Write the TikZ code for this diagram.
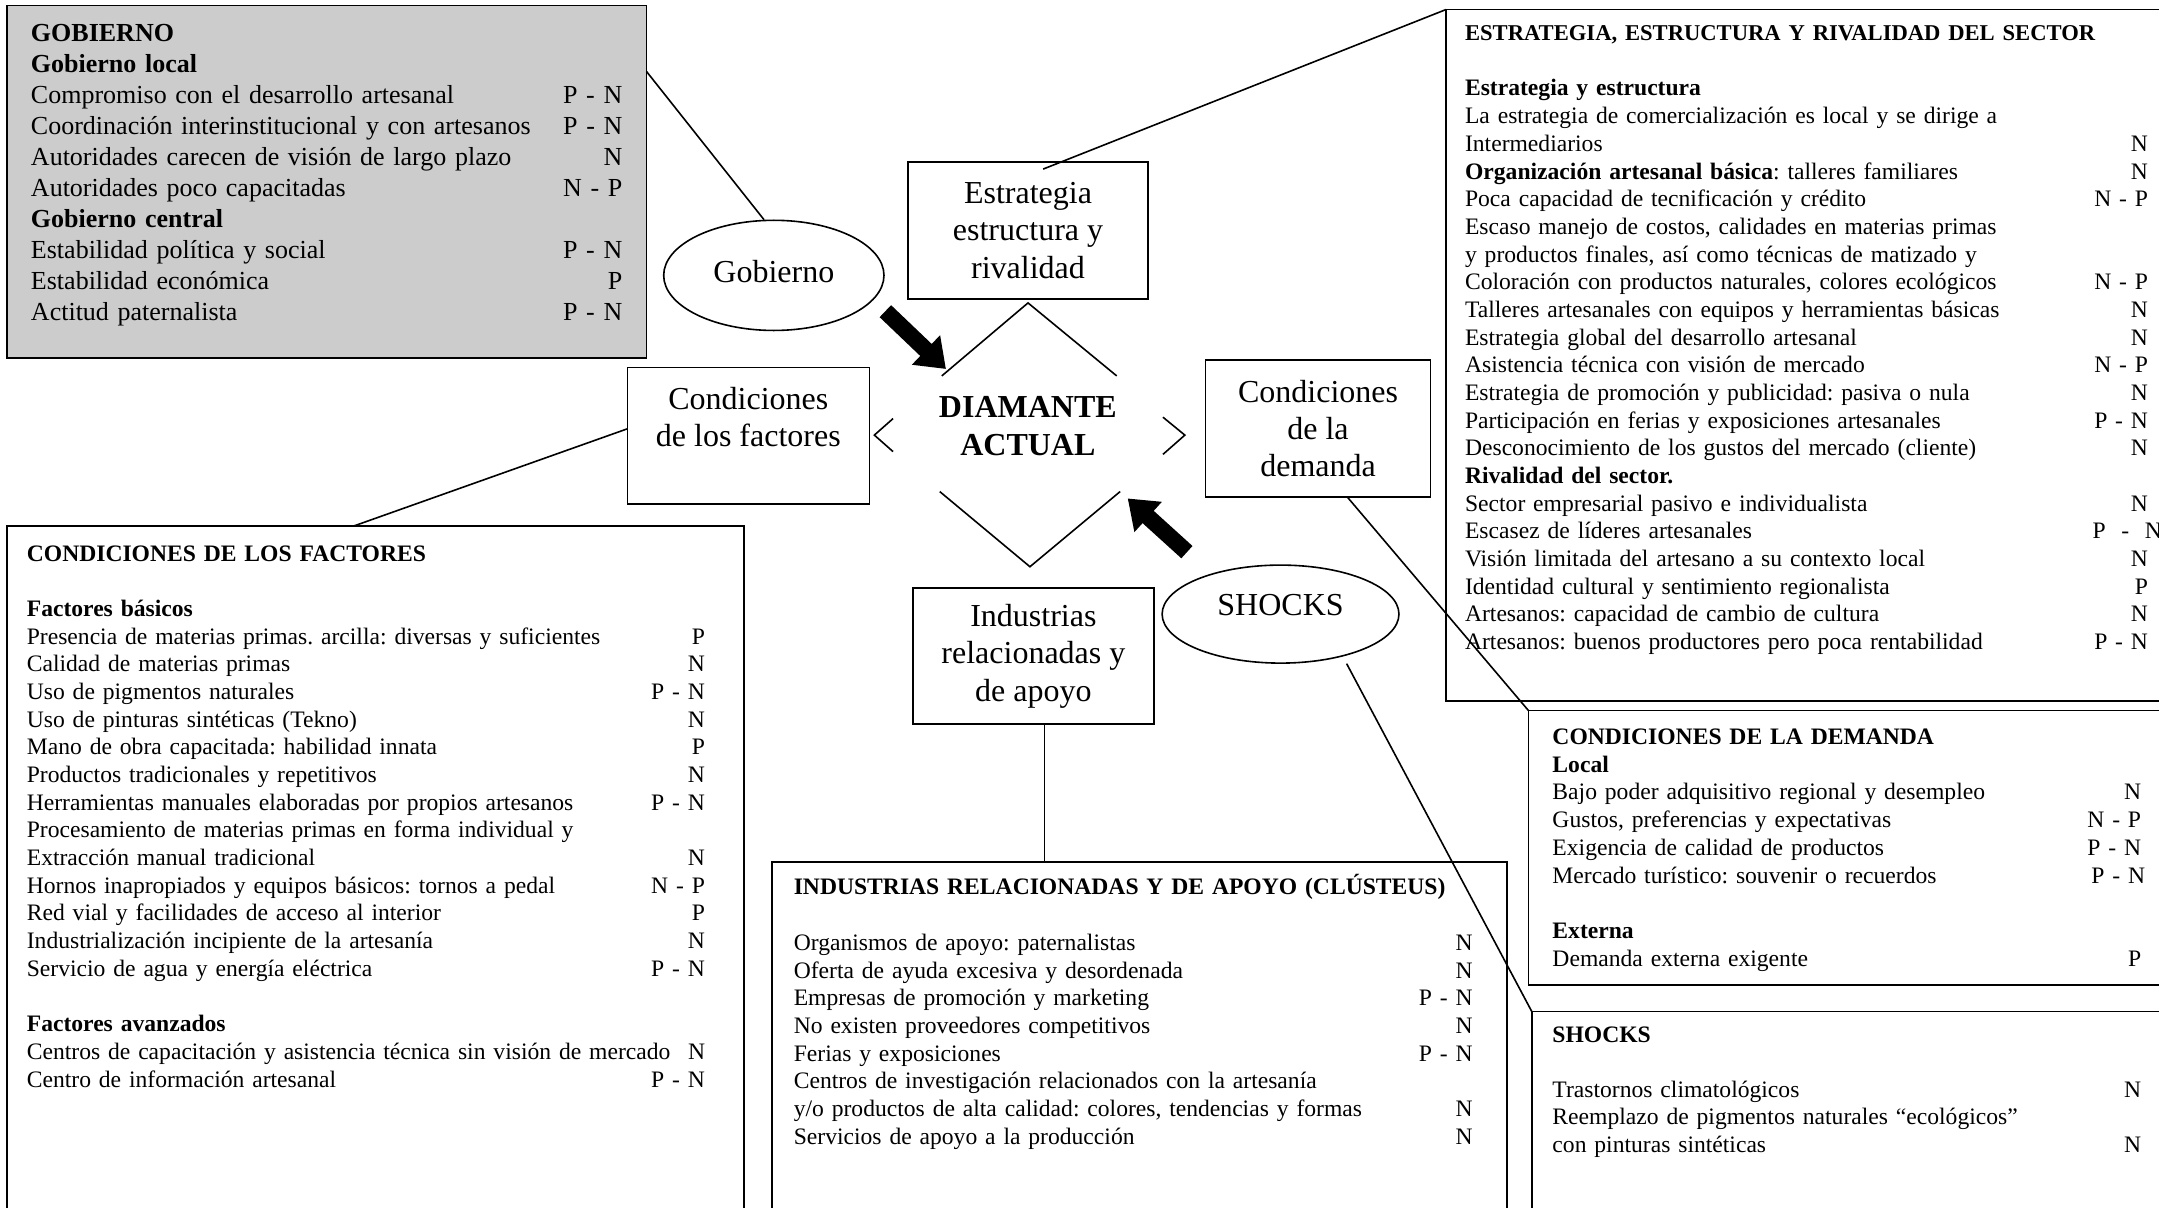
\documentclass[tikz,border=0pt]{standalone}
\usepackage{fontspec}
\setmainfont{Liberation Serif}
\usetikzlibrary{shapes.geometric,arrows.meta,calc}
\frenchspacing
\begin{document}
\begin{tikzpicture}[x=0.68846pt,y=-0.68846pt,
  bigframe/.style={draw,line width=0.8pt,inner sep=0pt,outer sep=0pt,anchor=north west},
  listtext/.style={anchor=base west,inner sep=0pt,outer sep=0pt,font=\fontsize{11.8}{13.84}\selectfont},
  smallbox/.style={draw,line width=0.8pt,inner sep=0pt,outer sep=0pt,align=center,font=\fontsize{16}{18.7}\selectfont},
  conn/.style={line width=0.8pt},
  blockarrow/.style={line width=8.3pt,-{Triangle[width=19.5pt,length=13.8pt]}}
]
\useasboundingbox (0,0) rectangle (1568,877);

% ---------- big information boxes ----------
\node[bigframe,fill=black!20,minimum width=319.79pt,minimum height=176.25pt] (gob) at (5,4) {};
\node[listtext,text width=295.69pt,font=\fontsize{13}{15.46}\selectfont] (gobt) at (22.5,30.5) {%
\textbf{GOBIERNO}\\
\textbf{Gobierno local}\\
Compromiso con el desarrollo artesanal\hfill P - N\\
Coordinación interinstitucional y con artesanos\hfill P - N\\
Autoridades carecen de visión de largo plazo\hfill N\\
Autoridades poco capacitadas\hfill N - P\\
\textbf{Gobierno central}\\
Estabilidad política y social\hfill P - N\\
Estabilidad económica\hfill P\\
Actitud paternalista\hfill P - N};

\node[bigframe,minimum width=413.08pt,minimum height=345.61pt] (esbig) at (1050,7) {};
\node[listtext,text width=341.48pt] (est2) at (1064,29.5) {%
{\fontsize{11.3}{13.84}\selectfont\textbf{ESTRATEGIA, ESTRUCTURA Y RIVALIDAD DEL SECTOR}}\\
\mbox{}\\
\textbf{Estrategia y estructura}\\
La estrategia de comercialización es local y se dirige a\\
Intermediarios\hfill N\\
\textbf{Organización artesanal básica}: talleres familiares\hfill N\\
Poca capacidad de tecnificación y crédito\hfill N - P\\
Escaso manejo de costos, calidades en materias primas\\
y productos finales, así como técnicas de matizado y\\
Coloración con productos naturales, colores ecológicos\hfill N - P\\
Talleres artesanales con equipos y herramientas básicas\hfill N\\
Estrategia global del desarrollo artesanal\hfill N\\
Asistencia técnica con visión de mercado\hfill N - P\\
Estrategia de promoción y publicidad: pasiva o nula\hfill N\\
Participación en ferias y exposiciones artesanales\hfill P - N\\
Desconocimiento de los gustos del mercado (cliente)\hfill N\\
\textbf{Rivalidad del sector.}\\
Sector empresarial pasivo e individualista\hfill N\\
Escasez de líderes artesanales\hfill P\ \ -\ \ N\kern-7pt\\
Visión limitada del artesano a su contexto local\hfill N\\
Identidad cultural y sentimiento regionalista\hfill P\\
Artesanos: capacidad de cambio de cultura\hfill N\\
Artesanos: buenos productores pero poca rentabilidad\hfill P - N};

\node[bigframe,minimum width=368.33pt,minimum height=391.05pt] (fbig) at (5.3,382) {};
\node[listtext,text width=339.07pt] (fbigt) at (19.5,407.5) {%
\textbf{CONDICIONES DE LOS FACTORES}\\
\mbox{}\\
\textbf{Factores básicos}\\
Presencia de materias primas. arcilla: diversas y suficientes\hfill P\\
Calidad de materias primas\hfill N\\
Uso de pigmentos naturales\hfill P - N\\
Uso de pinturas sintéticas (Tekno)\hfill N\\
Mano de obra capacitada: habilidad innata\hfill P\\
Productos tradicionales y repetitivos\hfill N\\
Herramientas manuales elaboradas por propios artesanos\hfill P - N\\
Procesamiento de materias primas en forma individual y\\
Extracción manual tradicional\hfill N\\
Hornos inapropiados y equipos básicos: tornos a pedal\hfill N - P\\
Red vial y facilidades de acceso al interior\hfill P\\
Industrialización incipiente de la artesanía\hfill N\\
Servicio de agua y energía eléctrica\hfill P - N\\
\mbox{}\\
\textbf{Factores avanzados}\\
Centros de capacitación y asistencia técnica sin visión de mercado\hfill N\\
Centro de información artesanal\hfill P - N};

\node[bigframe,minimum width=367.50pt,minimum height=223.06pt] (ibig) at (560.7,626) {};
\node[listtext,text width=339.41pt] (ibigt) at (576.5,650) {%
\textbf{INDUSTRIAS RELACIONADAS Y DE APOYO (CLÚSTEUS)}\\
\mbox{}\\
Organismos de apoyo: paternalistas\hfill N\\
Oferta de ayuda excesiva y desordenada\hfill N\\
Empresas de promoción y marketing\hfill P - N\\
No existen proveedores competitivos\hfill N\\
Ferias y exposiciones\hfill P - N\\
Centros de investigación relacionados con la artesanía\\
y/o productos de alta calidad: colores, tendencias y formas\hfill N\\
Servicios de apoyo a la producción\hfill N};

\node[bigframe,minimum width=371.77pt,minimum height=137.28pt] (dembig) at (1110,516) {};
\node[listtext,text width=294.32pt,font=\fontsize{11.8}{13.9}\selectfont] (dembigt) at (1127.5,540.5) {%
\textbf{CONDICIONES DE LA DEMANDA}\\
\textbf{Local}\\
Bajo poder adquisitivo regional y desempleo\hfill N\\
Gustos, preferencias y expectativas\hfill N - P\\
Exigencia de calidad de productos\hfill P - N\\
Mercado turístico: souvenir o recuerdos\hfill P - N\kern-2pt\\
\mbox{}\\
\textbf{Externa}\\
Demanda externa exigente\hfill P};

\node[bigframe,minimum width=371.77pt,minimum height=148.02pt] (shbig) at (1112.5,734.7) {};
\node[listtext,text width=294.32pt,font=\fontsize{11.8}{13.77}\selectfont] (shbigt) at (1127.5,757) {%
\textbf{SHOCKS}\\
\mbox{}\\
Trastornos climatológicos\hfill N\\
Reemplazo de pigmentos naturales “ecológicos”\\
con pinturas sintéticas\hfill N};

% ---------- diamond elements ----------
\node[draw,ellipse,line width=0.8pt,inner sep=0pt,minimum width=110.15pt,minimum height=55.08pt,text depth=4pt,font=\fontsize{16}{18.7}\selectfont] (gel) at (562,200) {Gobierno};
\node[smallbox,minimum width=119.8pt,minimum height=68.6pt] (est) at (746.6,167.3) {Estrategia\\estructura y\\rivalidad};
\node[smallbox,minimum width=120.82pt,minimum height=68.2pt] (cf) at (543.6,316.3) {};
\node[align=center,inner sep=0pt,font=\fontsize{16}{18.7}\selectfont] (cft) at (543.5,303) {Condiciones\\de los factores};
\node[smallbox,minimum width=112.56pt,minimum height=68.57pt] (dem) at (957.25,311.2) {Condiciones\\de la\\demanda};
\node[smallbox,minimum width=120.48pt,minimum height=68.16pt] (ind) at (750.5,476.5) {Industrias\\relacionadas y\\de apoyo};
\node[draw,ellipse,line width=0.8pt,inner sep=0pt,minimum width=118.42pt,minimum height=49.0pt,text depth=9pt,font=\fontsize{16}{18.7}\selectfont] (shel) at (930,446) {SHOCKS};
\node[align=center,inner sep=0pt,font=\bfseries\fontsize{16}{18.6}\selectfont] (dia) at (746.5,309.5) {DIAMANTE\\ACTUAL};

% diamond outline
\draw[conn] (684,273) -- (746.6,220) -- (811,273);
\draw[conn] (648.6,304) -- (635,316) -- (648.6,328);
\draw[conn] (844.6,303) -- (860.5,316) -- (844.6,330);
\draw[conn] (682.5,357) -- (748,411.6) -- (813.5,357);

% ---------- connectors ----------
\coordinate (estin) at (757.6,122.8);
\coordinate (indl) at ($(ind.south west)+(95.6,0)$);
\coordinate (shl) at (978,482);
\draw[conn] ($(gob.north east)!0.187!(gob.south east)$) -- (gel.100);
\draw[conn] (estin) -- (esbig.north west);
\draw[conn] ($(cf.north west)!0.45!(cf.south west)$) -- ($(fbig.north west)+(251.7,0)$);
\draw[conn] ($(dem.south west)!0.63!(dem.south east)$) -- (dembig.north west);
\draw[conn] (indl) -- (indl |- ibig.north);
\draw[conn] (shl) -- (shbig.north west);

% block arrows
\coordinate (ga1) at (643,226);
\coordinate (ga2) at (687,268);
\coordinate (sa1) at (862,401);
\coordinate (sa2) at (819,362);
\draw[blockarrow] (ga1) -- (ga2);
\draw[blockarrow] (sa1) -- (sa2);
\end{tikzpicture}
\end{document}
